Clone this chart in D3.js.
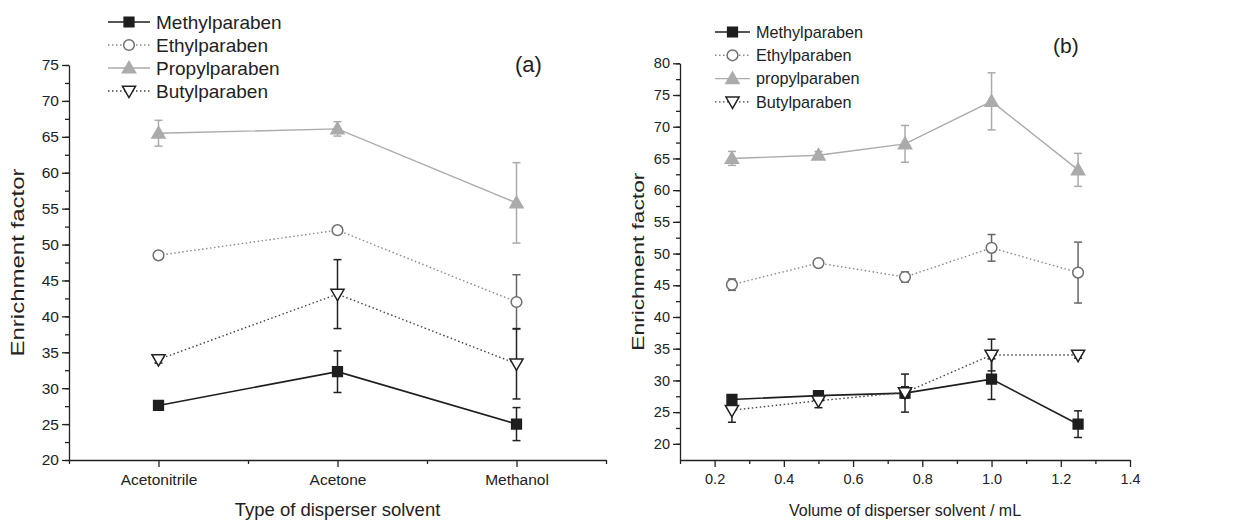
<!DOCTYPE html>
<html>
<head>
<meta charset="utf-8">
<script src="https://cdn.jsdelivr.net/npm/d3@7"></script>
<style>
  body { margin: 0; background: #fff; }
  svg { font-family: "Liberation Sans", Arial, sans-serif; }
  .axis path, .axis line { stroke: #222; stroke-width: 1.3px; }
  .axis text { fill: #222; }
</style>
</head>
<body>
<svg id="chart" width="1243" height="521"></svg>
<script>
// ---- data, panel (a) ----
const solvents = ["Acetonitrile", "Acetone", "Methanol"]
const namesA = ["Methylparaben", "Ethylparaben", "Propylparaben", "Butylparaben"]
const methylA = [27.6, 32.3, 25.0]
const methylErrA = [0.3, 2.9, 2.3]
const ethylA = [48.5, 52.0, 42.0]
const ethylErrA = [0.3, 0.4, 3.8]
const propylA = [65.5, 66.1, 55.8]
const propylErrA = [1.8, 1.0, 5.6]
const butylA = [34.0, 43.1, 33.4]
const butylErrA = [0.5, 4.8, 4.9]
const yTicksA = [20, 25, 30, 35, 40, 45, 50, 55, 60, 65, 70, 75]

// ---- data, panel (b) ----
const volumes = [0.25, 0.5, 0.75, 1.0, 1.25]
const namesB = ["Methylparaben", "Ethylparaben", "propylparaben", "Butylparaben"]
const methylB = [27.0, 27.6, 28.0, 30.2, 23.1]
const methylErrB = [0.3, 0.4, 3.0, 3.2, 2.1]
const ethylB = [45.1, 48.5, 46.3, 50.9, 47.0]
const ethylErrB = [0.9, 0.4, 0.8, 2.1, 4.8]
const propylB = [65.0, 65.5, 67.3, 74.0, 63.2]
const propylErrB = [1.1, 0.6, 2.9, 4.5, 2.6]
const butylB = [25.3, 26.8, 28.1, 34.0, 34.0]
const butylErrB = [1.9, 1.1, 0.9, 2.5, 0.5]
const yTicksB = [20, 25, 30, 35, 40, 45, 50, 55, 60, 65, 70, 75, 80]
const xTicksB = [0.2, 0.4, 0.6, 0.8, 1.0, 1.2, 1.4]

const svg = d3.select("#chart")

// series styles (marker, color, dash)
const styles = [
  { sym: d3.symbolSquare, size: 95, fill: "#1e1e1e", stroke: "#1e1e1e", line: "#1e1e1e", dash: null, rot: 0 },
  { sym: d3.symbolCircle, size: 90, fill: "#fff", stroke: "#6e6e6e", line: "#8a8a8a", dash: "1.5,2.5", rot: 0 },
  { sym: d3.symbolTriangle, size: 75, fill: "#ababab", stroke: "#ababab", line: "#ababab", dash: null, rot: 0 },
  { sym: d3.symbolTriangle, size: 75, fill: "#fff", stroke: "#222", line: "#444", dash: "1.5,2.5", rot: 180 }
]

function drawPanel(cfg) {
  let g = svg.append("g")

  // y axis
  let y = cfg.y
  let yMinor = d3.range(cfg.yMin, cfg.yMax + 0.01, 2.5)
  g.append("g")
    .attr("class", "axis")
    .attr("transform", `translate(${cfg.left},0)`)
    .call(d3.axisLeft(y).tickValues(yMinor).tickSize(4).tickFormat(""))
    .call(a => a.select(".domain").remove())
  g.append("g")
    .attr("class", "axis")
    .attr("transform", `translate(${cfg.left},0)`)
    .call(d3.axisLeft(y).tickValues(cfg.yTicks).tickSize(7).tickPadding(3).tickSizeOuter(0))
    .call(a => a.selectAll("text").style("font-size", cfg.tickFont))

  // x axis
  g.append("g")
    .attr("class", "axis")
    .attr("transform", `translate(0,${cfg.bottom})`)
    .call(d3.axisBottom(cfg.x).tickValues(cfg.xMinor).tickSize(4).tickFormat(""))
    .call(a => a.select(".domain").remove())
  g.append("g")
    .attr("class", "axis")
    .attr("transform", `translate(0,${cfg.bottom})`)
    .call(d3.axisBottom(cfg.x).tickValues(cfg.xTicks).tickSize(7).tickPadding(7).tickSizeOuter(0).tickFormat(cfg.xFormat))
    .call(a => a.selectAll("text").style("font-size", cfg.xFontSize))

  // axis titles
  g.append("text")
    .attr("transform", `translate(${cfg.yTitleX},${(y.range()[0] + y.range()[1]) / 2}) rotate(-90)`)
    .attr("text-anchor", "middle")
    .attr("textLength", cfg.yTitleLen)
    .attr("lengthAdjust", "spacingAndGlyphs")
    .style("font-size", cfg.titleFont)
    .style("fill", "#222")
    .text("Enrichment factor")
  g.append("text")
    .attr("x", (cfg.x.range()[0] + cfg.x.range()[1]) / 2)
    .attr("y", 516)
    .attr("text-anchor", "middle")
    .style("font-size", cfg.titleFont)
    .style("fill", "#222")
    .text(cfg.xTitle)

  // panel tag
  g.append("text")
    .attr("x", cfg.tagX)
    .attr("y", cfg.tagY)
    .style("font-size", cfg.tagFont)
    .style("fill", "#222")
    .text(cfg.tag)

  // series: lines, error bars, markers
  let line = d3.line().x(d => cfg.x(d.x)).y(d => y(d.v))
  cfg.series.forEach((s, i) => {
    let st = styles[i]
    let pts = s.vals.map((v, j) => ({ x: cfg.xs[j], v: v, e: s.errs[j] }))
    g.append("path")
      .datum(pts)
      .attr("fill", "none")
      .attr("stroke", st.line)
      .attr("stroke-width", i == 0 ? 1.6 : 1.4)
      .attr("stroke-dasharray", st.dash)
      .attr("d", line)

    let eb = g.append("g")
      .attr("stroke", i == 2 ? "#ababab" : (i == 1 ? "#666" : "#222"))
      .attr("stroke-width", 1.5)
    pts.forEach(p => {
      let cx = cfg.x(p.x)
      eb.append("line").attr("x1", cx).attr("x2", cx).attr("y1", y(p.v + p.e)).attr("y2", y(p.v - p.e))
      eb.append("line").attr("x1", cx - 4).attr("x2", cx + 4).attr("y1", y(p.v + p.e)).attr("y2", y(p.v + p.e))
      eb.append("line").attr("x1", cx - 4).attr("x2", cx + 4).attr("y1", y(p.v - p.e)).attr("y2", y(p.v - p.e))
    })
  })
  cfg.series.forEach((s, i) => {
    let st = styles[i]
    let pts = s.vals.map((v, j) => ({ x: cfg.xs[j], v: v }))
    g.selectAll(null)
      .data(pts)
      .join("path")
      .attr("d", d3.symbol().type(st.sym).size(st.size))
      .attr("transform", d => `translate(${cfg.x(d.x)},${y(d.v) + (st.sym == d3.symbolTriangle ? (st.rot ? -1 : 1) : 0)}) rotate(${st.rot})`)
      .attr("fill", st.fill)
      .attr("stroke", st.stroke)
      .attr("stroke-width", 1.5)
  })

  // legend
  let leg = g.append("g")
  cfg.names.forEach((n, i) => {
    let st = styles[i]
    let ly = cfg.legY + i * cfg.legStep
    leg.append("line")
      .attr("x1", cfg.legX).attr("x2", cfg.legX + cfg.legW)
      .attr("y1", ly).attr("y2", ly)
      .attr("stroke", st.line)
      .attr("stroke-width", i == 0 ? 1.6 : 1.4)
      .attr("stroke-dasharray", st.dash)
    leg.append("path")
      .attr("d", d3.symbol().type(st.sym).size(st.size))
      .attr("transform", `translate(${cfg.legX + cfg.legW / 2},${ly + (st.sym == d3.symbolTriangle ? (st.rot ? -1 : 1) : 0)}) rotate(${st.rot})`)
      .attr("fill", st.fill)
      .attr("stroke", st.stroke)
      .attr("stroke-width", 1.5)
    leg.append("text")
      .attr("x", cfg.legX + cfg.legW + 6)
      .attr("y", ly)
      .attr("dy", "0.35em")
      .style("font-size", cfg.legFont)
      .style("fill", "#222")
      .text(n)
  })
}

// panel (a)
drawPanel({
  x: d3.scaleLinear().domain([0.5, 3.5]).range([69, 606]),
  y: d3.scaleLinear().domain([20, 75]).range([460, 65]),
  yMin: 20, yMax: 75, yTicks: yTicksA,
  left: 69, bottom: 460,
  xs: [1, 2, 3],
  xTicks: [1, 2, 3],
  xMinor: [0.5, 1.5, 2.5, 3.5],
  xFormat: (d) => solvents[d - 1],
  xFontSize: "15.5px",
  tickFont: "15.5px",
  titleFont: "18.5px",
  xTitle: "Type of disperser solvent",
  yTitleX: 24, yTitleLen: 188,
  tag: "(a)", tagX: 515, tagY: 72, tagFont: "22px",
  names: namesA, legFont: "19px",
  legX: 108, legW: 42, legY: 22, legStep: 23,
  series: [
    { vals: methylA, errs: methylErrA },
    { vals: ethylA, errs: ethylErrA },
    { vals: propylA, errs: propylErrA },
    { vals: butylA, errs: butylErrA }
  ]
})

// panel (b)
drawPanel({
  x: d3.scaleLinear().domain([0.1, 1.4]).range([680, 1130]),
  y: d3.scaleLinear().domain([17.45, 80]).range([460, 63.3]),
  yMin: 20, yMax: 80, yTicks: yTicksB,
  left: 680, bottom: 460,
  xs: volumes,
  xTicks: xTicksB,
  xMinor: [0.1, 0.3, 0.5, 0.7, 0.9, 1.1, 1.3],
  xFormat: d3.format(".1f"),
  xFontSize: "14.5px",
  tickFont: "14.5px",
  titleFont: "16px",
  xTitle: "Volume of disperser solvent / mL",
  yTitleX: 644, yTitleLen: 178,
  tag: "(b)", tagX: 1053, tagY: 53, tagFont: "21px",
  names: namesB, legFont: "16.2px",
  legX: 715, legW: 35, legY: 32, legStep: 23.3,
  series: [
    { vals: methylB, errs: methylErrB },
    { vals: ethylB, errs: ethylErrB },
    { vals: propylB, errs: propylErrB },
    { vals: butylB, errs: butylErrB }
  ]
})
</script>
</body>
</html>
